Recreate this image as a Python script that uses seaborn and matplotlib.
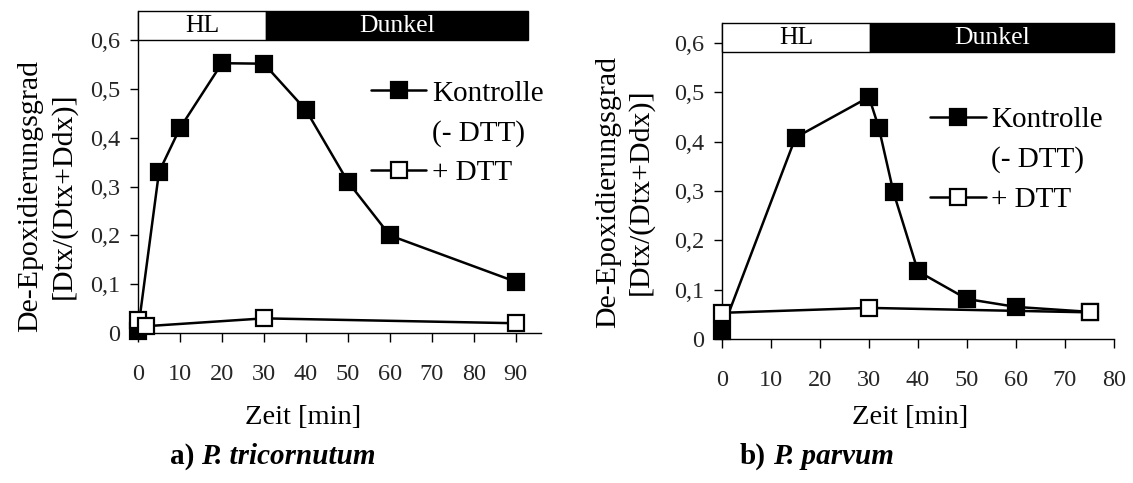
import matplotlib
matplotlib.use("Agg")
import matplotlib.pyplot as plt
from matplotlib.lines import Line2D
from matplotlib.patches import Rectangle
from matplotlib.ticker import FuncFormatter
import pandas as pd
import seaborn as sns

# ---- data -------------------------------------------------------------
# a) P. tricornutum
tri_ctrl_t = [0, 5, 10, 20, 30, 40, 50, 60, 90]
tri_ctrl_de = [0.005, 0.33, 0.42, 0.553, 0.552, 0.457, 0.31, 0.2, 0.105]
tri_dtt_t = [0, 2, 30, 90]
tri_dtt_de = [0.027, 0.014, 0.030, 0.020]

# b) P. parvum
par_ctrl_t = [0, 15, 30, 32, 35, 40, 50, 60, 75]
par_ctrl_de = [0.017, 0.408, 0.49, 0.428, 0.297, 0.137, 0.081, 0.065, 0.055]
par_dtt_t = [0, 30, 75]
par_dtt_de = [0.053, 0.063, 0.054]

# light phases shown in the header bar: (label, start, end)
tri_phases = [("HL", 0, 30.5), ("Dunkel", 30.5, 93)]
par_phases = [("HL", 0, 30.2), ("Dunkel", 30.2, 80)]

series_labels = ["Kontrolle", "(- DTT)", "+ DTT"]
xlabel = "Zeit [min]"
ylabel = "De-Epoxidierungsgrad\n[Dtx/(Dtx+Ddx)]"
yticks = [0, 0.1, 0.2, 0.3, 0.4, 0.5, 0.6]

# ---- style ------------------------------------------------------------
sns.set_theme(style="white")
plt.rcParams["font.family"] = ["Liberation Serif", "DejaVu Serif"]

W, H = 1133, 483
fig = plt.figure(figsize=(W / 100, H / 100), dpi=100)


def px_axes(left, right, bottom, top):
    return fig.add_axes([left / W, 1 - bottom / H, (right - left) / W, (bottom - top) / H])


def comma_fmt(v, pos):
    if abs(v) < 1e-9:
        return "0"
    return f"{v:.1f}".replace(".", ",")


LW = 1.8
MS = 11.5
MEW = 1.6


def draw_panel(ax, ctrl_t, ctrl_de, dtt_t, dtt_de, phases, xmax, xticks,
               ytop, bar_bottom, legend_anchor, ylabel_xy, xlabel_xy):
    df_c = pd.DataFrame({"t": ctrl_t, "de": ctrl_de})
    df_d = pd.DataFrame({"t": dtt_t, "de": dtt_de})
    sns.lineplot(data=df_c, x="t", y="de", ax=ax, color="black", lw=LW,
                 marker="s", markersize=MS, markerfacecolor="black",
                 markeredgecolor="black", markeredgewidth=MEW, clip_on=False,
                 zorder=3)
    sns.lineplot(data=df_d, x="t", y="de", ax=ax, color="black", lw=LW,
                 marker="s", markersize=MS, markerfacecolor="white",
                 markeredgecolor="black", markeredgewidth=MEW, clip_on=False,
                 zorder=4)

    ax.set_xlim(0, xmax)
    ax.set_ylim(0, ytop)
    ax.set_xticks(xticks)
    ax.set_yticks(yticks)
    ax.yaxis.set_major_formatter(FuncFormatter(comma_fmt))

    for s in ["top", "right"]:
        ax.spines[s].set_visible(False)
    for s in ["left", "bottom"]:
        ax.spines[s].set_color("black")
        ax.spines[s].set_linewidth(1.0)

    ax.tick_params(axis="x", direction="out", length=6.5, width=1.0,
                   color="black", labelsize=17.5, pad=16, bottom=True)
    ax.tick_params(axis="y", direction="out", length=6, width=1.0,
                   color="black", labelsize=17.5, pad=7, left=True)
    ax.set_facecolor("none")
    ax.grid(False)

    # header bar: light phase (white) and darkness (black)
    for name, x0, x1 in phases:
        dark = name != "HL"
        ax.add_patch(Rectangle((x0, bar_bottom), x1 - x0, ytop - bar_bottom,
                               facecolor="black" if dark else "white",
                               edgecolor="black", lw=1.0, clip_on=False,
                               zorder=5))
        ax.text((x0 + x1) / 2, (bar_bottom + ytop) / 2, name,
                ha="center", va="center", fontsize=18.5,
                color="white" if dark else "black", zorder=6)

    ax.set_xlabel(xlabel, fontsize=20.5, color="black")
    ax.xaxis.set_label_coords(*xlabel_xy)
    ax.set_ylabel(ylabel, fontsize=21.5, color="black", linespacing=1.3)
    ax.yaxis.set_label_coords(*ylabel_xy)

    handles = [
        Line2D([], [], color="black", lw=LW, marker="s", markersize=MS,
               markerfacecolor="black", markeredgecolor="black",
               markeredgewidth=MEW),
        Line2D([], [], color="none"),
        Line2D([], [], color="black", lw=LW, marker="s", markersize=MS,
               markerfacecolor="white", markeredgecolor="black",
               markeredgewidth=MEW),
    ]
    leg = ax.legend(handles, series_labels, loc="upper left",
                    bbox_to_anchor=legend_anchor, frameon=False, fontsize=21,
                    handlelength=1.9, handletextpad=0.2, borderpad=0,
                    borderaxespad=0, labelspacing=0.45)
    for t in leg.get_texts():
        t.set_color("black")


ax1 = px_axes(138, 541, 333, 11)
draw_panel(ax1, tri_ctrl_t, tri_ctrl_de, tri_dtt_t, tri_dtt_de, tri_phases,
           96, list(range(0, 91, 10)), 0.66, 0.6, (0.578, 0.785),
           (-0.152, 0.425), (0.41, -0.225))

ax2 = px_axes(722, 1114, 339, 23)
draw_panel(ax2, par_ctrl_t, par_ctrl_de, par_dtt_t, par_dtt_de, par_phases,
           80, list(range(0, 81, 10)), 0.64, 0.581, (0.531, 0.735),
           (-0.173, 0.465), (0.48, -0.21))


# panel captions: bold tag followed by the italic species name
def caption(x, y, tag, species):
    t1 = fig.text(x, y, tag, fontsize=21, fontweight="bold", color="black",
                  ha="left", va="baseline")
    plt.annotate(species, xy=(1, 0), xycoords=t1, xytext=(5, 0),
                 textcoords="offset points", fontsize=21,
                 fontweight="bold", fontstyle="italic", color="black",
                 ha="left", va="bottom", annotation_clip=False)


caption(170 / W, 1 - 464 / H, "a)", "P. tricornutum")
caption(740 / W, 1 - 464 / H, "b)", "P. parvum")

fig.savefig("out.png", dpi=100, facecolor="white")
